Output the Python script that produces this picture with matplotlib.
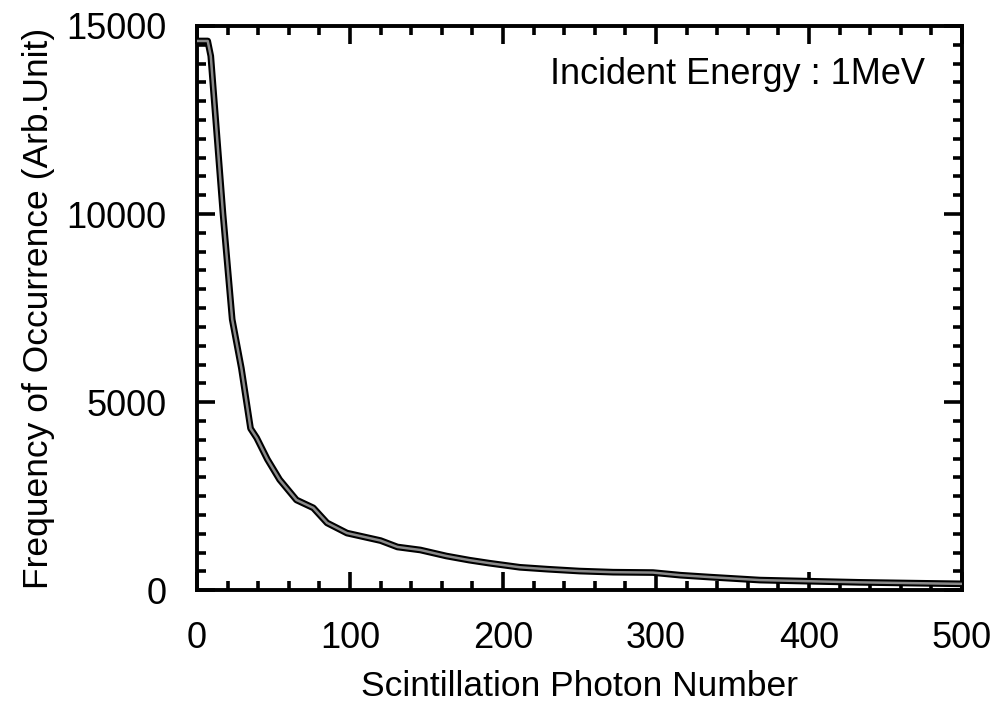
import matplotlib
matplotlib.use("Agg")
import matplotlib.pyplot as plt
from matplotlib.ticker import MultipleLocator

plt.rcParams['font.family'] = ['Liberation Sans', 'DejaVu Sans']

photon_number = [0, 7, 9, 17, 23, 29, 35, 39, 46, 54, 65, 76, 85, 98, 120, 131,
                 146, 163, 178, 191, 211, 229, 250, 272, 298, 316, 335, 368, 400,
                 433, 466, 500]
frequency = [14600, 14600, 14200, 10000, 7200, 5900, 4300, 4050, 3480, 2940, 2400,
             2190, 1790, 1520, 1320, 1150, 1070, 910, 800, 720, 610, 560, 510, 480,
             470, 400, 350, 270, 240, 210, 190, 170]

x_label = "Scintillation Photon Number"
y_label = "Frequency of Occurrence (Arb.Unit)"
annotation = "Incident Energy : 1MeV"

fig = plt.figure(figsize=(10, 7.01), dpi=100)
ax = fig.add_axes([0.197, 0.158, 0.765, 0.805])

ax.plot(photon_number, frequency, color='black', lw=4.8, solid_joinstyle='round',
        solid_capstyle='butt', zorder=3)
ax.plot(photon_number, frequency, color='#8a8a8a', lw=1.8, solid_joinstyle='round',
        zorder=4)

ax.set_xlim(0, 500)
ax.set_ylim(0, 15000)
ax.xaxis.set_major_locator(MultipleLocator(100))
ax.xaxis.set_minor_locator(MultipleLocator(20))
ax.yaxis.set_major_locator(MultipleLocator(5000))
ax.yaxis.set_minor_locator(MultipleLocator(500))

ax.tick_params(which='both', direction='in', top=True, right=True, width=2.6,
               colors='black')
ax.tick_params(which='major', length=13, labelsize=26, pad=22)
ax.tick_params(which='minor', length=6.5)
for s in ax.spines.values():
    s.set_linewidth(2.8)

ax.set_xlabel(x_label, fontsize=25.5, labelpad=10)
ax.set_ylabel(y_label, fontsize=25.5, labelpad=8)

ax.text(0.952, 0.897, annotation, transform=ax.transAxes, ha='right', va='baseline',
        fontsize=26)

fig.savefig("out.png", dpi=100)
